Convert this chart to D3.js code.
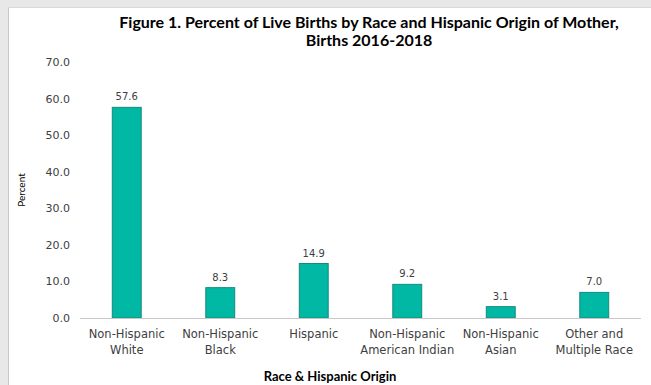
<!DOCTYPE html>
<html><head><meta charset="utf-8">
<script src="https://cdn.jsdelivr.net/npm/d3@7"></script>
<style>body{margin:0;background:#e8e8e8;}svg{display:block;}</style>
</head><body>
<svg id="c" width="651" height="385"></svg>
<script>
const categories = [["Non-Hispanic","White"],["Non-Hispanic","Black"],["Hispanic"],["Non-Hispanic","American Indian"],["Non-Hispanic","Asian"],["Other and","Multiple Race"]];
const values = [57.6, 8.3, 14.9, 9.2, 3.1, 7.0];
const yTicks = [0,10,20,30,40,50,60,70];
const titleLines = ["Figure 1. Percent of Live Births by Race and Hispanic Origin of Mother,","Births 2016-2018"];

const svg = d3.select("#c");
svg.append("rect").attr("x",0).attr("y",0).attr("width",651).attr("height",385).attr("fill","#e8e8e8");
svg.append("rect").attr("x",8).attr("y",7).attr("width",643).attr("height",378).attr("fill","#fff");
svg.append("line").attr("x1",8.5).attr("x2",8.5).attr("y1",7).attr("y2",385).attr("stroke","#c8c8c8");
svg.append("line").attr("x1",8).attr("x2",651).attr("y1",7.5).attr("y2",7.5).attr("stroke","#d8d8d8");

const x = d3.scaleBand().domain(d3.range(categories.length)).range([80,641]).paddingInner(0.68).paddingOuter(0.34);
const y = d3.scaleLinear().domain([0,70]).range([318,62]);

svg.append("g").selectAll("rect").data(values).join("rect")
  .attr("x",(d,i)=>x(i)+0.5).attr("width",x.bandwidth()-1)
  .attr("y",d=>y(d)).attr("height",d=>y(0)-y(d))
  .attr("fill","#00B8A4").attr("stroke","#158a7c").attr("stroke-width",1);

const yAxis = d3.axisLeft(y).tickValues(yTicks).tickFormat(d3.format(".1f")).tickSize(0).tickPadding(0);
const ga = svg.append("g").attr("transform","translate(70,0)").call(yAxis);
ga.select(".domain").remove();
ga.selectAll("text").attr("font-family","DejaVu Sans").attr("font-size",11).attr("fill","#404040");

svg.append("line").attr("x1",80).attr("x2",641).attr("y1",y(0)+0.5).attr("y2",y(0)+0.5).attr("stroke","#c8c8c8");

svg.append("g").selectAll("text").data(values).join("text")
  .attr("x",(d,i)=>x(i)+x.bandwidth()/2).attr("y",d=>y(d)-7)
  .attr("text-anchor","middle").attr("font-family","DejaVu Sans").attr("font-size",10).attr("fill","#404040")
  .text(d=>d.toFixed(1));

const cl = svg.append("g").selectAll("text").data(categories).join("text")
  .attr("text-anchor","middle").attr("font-family","DejaVu Sans").attr("font-size",11.5).attr("fill","#404040");
cl.each(function(d,i){
  const t=d3.select(this);
  d.forEach((s,j)=>t.append("tspan").attr("x",x(i)+x.bandwidth()/2).attr("y",338+j*16).text(s));
});

svg.append("text").attr("x",330).attr("y",381).attr("text-anchor","middle")
  .attr("font-family","Lato").attr("font-weight","bold").attr("font-size",13).attr("fill","#000").text("Race & Hispanic Origin");

svg.append("text").attr("transform","translate(25,190) rotate(-90)").attr("text-anchor","middle")
  .attr("font-family","Lato").attr("font-size",10).attr("fill","#000").text("Percent");

svg.append("g").selectAll("text").data(titleLines).join("text")
  .attr("x",369).attr("y",(d,i)=>28+i*18).attr("text-anchor","middle")
  .attr("font-family","Lato").attr("font-weight","bold").attr("font-size",16).attr("fill","#000").text(d=>d);
</script>
</body></html>
